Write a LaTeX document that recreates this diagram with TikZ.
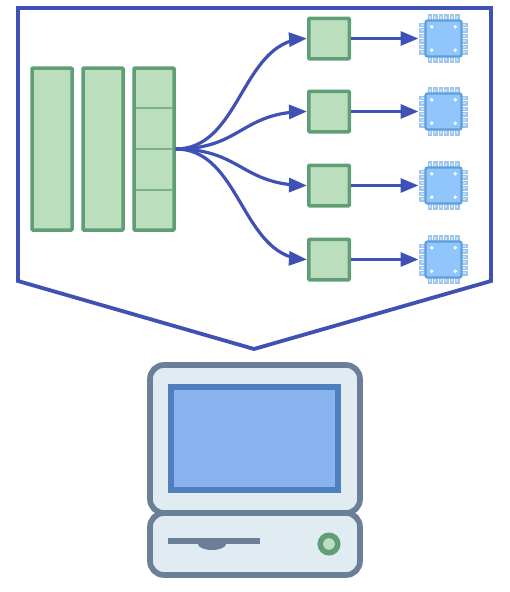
\documentclass[tikz,border=0pt]{standalone}
\usepackage{tikz}
\usetikzlibrary{arrows.meta,bending,calc}
\definecolor{figB}{RGB}{63,81,181}
\definecolor{figG}{RGB}{95,158,119}
\definecolor{figGL}{RGB}{187,223,188}
\definecolor{figS}{RGB}{107,127,153}
\definecolor{figSL}{RGB}{225,235,242}
\definecolor{figC}{RGB}{95,159,220}
\definecolor{figCL}{RGB}{144,198,251}
\definecolor{figP}{RGB}{79,127,191}
\definecolor{figPL}{RGB}{138,180,240}
\tikzset{
  barbox/.style={draw=figG,fill=figGL,line width=3.5pt,minimum width=40pt,minimum height=162pt,rounded corners=0.8pt,inner sep=0pt},
  cellbox/.style={draw=figG,fill=figGL,line width=3.5pt,minimum size=40.5pt,rounded corners=0.8pt,inner sep=0pt},
  chipbody/.style={draw=figC,fill=figCL,line width=2.2pt,minimum size=36pt,rounded corners=2pt,inner sep=0pt,outer sep=0pt},
  chippin/.style={draw=figC!60,fill=figCL!55,line width=1.3pt},
  link/.style={draw=figB,line width=3.2pt},
  casing/.style={draw=figS,fill=figSL,line width=5.7pt,rounded corners=14pt},
  chipicon/.pic={
    \foreach \p in {-13.75,-8.25,...,13.75} {
      \draw[chippin] (\p-1.6,-23.5) rectangle (\p+1.6,-18);
      \draw[chippin] (\p-1.6,18) rectangle (\p+1.6,23.5);
      \draw[chippin] (-23.5,\p-1.6) rectangle (-18,\p+1.6);
      \draw[chippin] (18,\p-1.6) rectangle (23.5,\p+1.6);
    }
    \node[chipbody] (-body) at (0,0) {};
    \foreach \sx in {-11.7,11.7} \foreach \sy in {-11.7,11.7}
      \fill[white] (\sx,\sy) circle (1.9pt);
  }
}
\begin{document}
\begin{tikzpicture}[x=1pt,y=-1pt,>={Triangle[length=18pt,width=14pt,flex=0.4]}]
\useasboundingbox (0,0) rectangle (509,592);
% bubble around the network
\draw[figB,line width=3.8pt,line join=miter] (18,8)--(491,8)--(491,281)--(254,349)--(18,281)--cycle;
% input bars
\node[barbox] (bar1) at (52,149) {};
\node[barbox] (bar2) at (103,149) {};
\node[barbox] (bar3) at (154,149) {};
\foreach \d in {108,149,190} \draw[figG!70!figGL,line width=1.5pt] (135.5,\d)--(172.5,\d);
% cells, chips and links
\foreach \n/\y in {1/38.5,2/111.5,3/185.5,4/259.5} {
  \node[cellbox] (cell\n) at (329,\y) {};
  \pic (chip\n) at (443.5,\y) {chipicon};
  \draw[link,->] (bar3.east) .. controls +(66,0) and +(-66,0) .. (cell\n.west);
  \draw[link,->,shorten >=7pt] (cell\n.east) -- (chip\n-body.west);
}
% computer
\draw[casing] (150,513) rectangle (360,575);
\draw[casing] (150,365) rectangle (360,513);
\draw[draw=figP,fill=figPL,line width=5.5pt] (171,387) rectangle (338,490);
\fill[figS] (168,538) rectangle (260,544);
\fill[figS] (198,544) arc (180:360:14pt and 6pt)--cycle;
\node[draw=figG,fill=figGL,line width=5.5pt,circle,minimum size=17.5pt,inner sep=0pt] (led) at (329,544) {};
\end{tikzpicture}
\end{document}
